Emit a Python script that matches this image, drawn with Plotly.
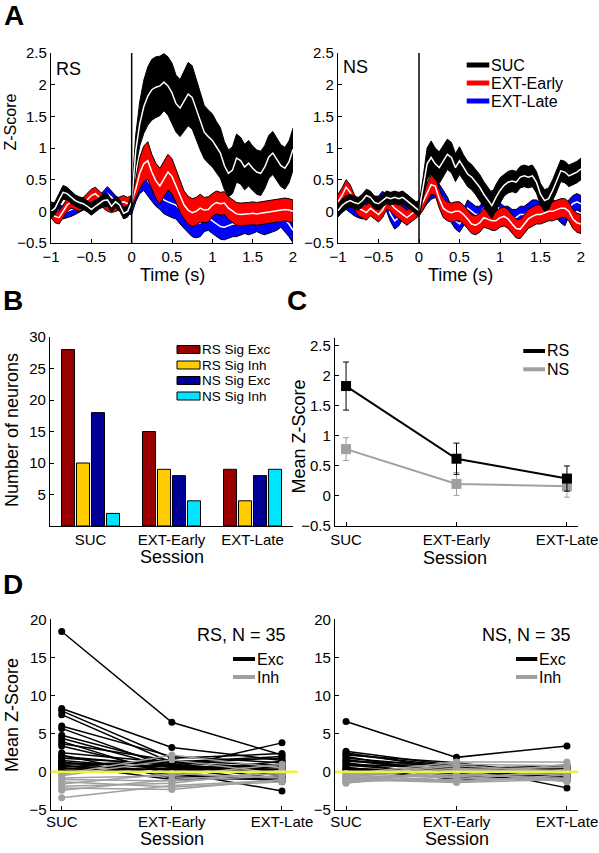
import plotly.graph_objects as go

W, H = 599, 853
FONT = "Liberation Sans, Arial, sans-serif"

# ---------------- Panel A data ----------------
time_s = [-1.00, -0.95, -0.90, -0.85, -0.80, -0.75, -0.70, -0.65, -0.60, -0.55,
          -0.50, -0.45, -0.40, -0.35, -0.30, -0.25, -0.20, -0.15, -0.10, -0.05,
          0.00, 0.05, 0.10, 0.15, 0.20, 0.25, 0.30, 0.35, 0.40, 0.45,
          0.50, 0.55, 0.60, 0.65, 0.70, 0.75, 0.80, 0.85, 0.90, 0.95,
          1.00, 1.05, 1.10, 1.15, 1.20, 1.25, 1.30, 1.35, 1.40, 1.45,
          1.50, 1.55, 1.60, 1.65, 1.70, 1.75, 1.80, 1.85, 1.90, 1.95, 2.00]

rs_suc_mean = [0.00, 0.05, 0.18, 0.30, 0.28, 0.22, 0.17, 0.14, 0.12, 0.08,
               0.03, 0.08, 0.13, 0.17, 0.18, 0.08, 0.15, 0.10, -0.03, 0.00,
               0.15, 0.95, 1.38, 1.65, 1.82, 1.92, 1.96, 1.98, 2.04, 1.98,
               1.87, 1.70, 1.63, 1.75, 1.85, 1.80, 1.62, 1.42, 1.25, 1.18,
               1.12, 1.02, 0.92, 0.72, 0.60, 0.65, 0.84, 0.80, 0.70, 0.76,
               0.68, 0.62, 0.60, 0.70, 0.86, 0.92, 0.82, 0.72, 0.68, 0.78, 0.98]
rs_suc_sem = [0.10, 0.10, 0.10, 0.11, 0.10, 0.10, 0.09, 0.09, 0.09, 0.09,
              0.09, 0.09, 0.09, 0.10, 0.10, 0.09, 0.09, 0.09, 0.09, 0.09,
              0.12, 0.25, 0.35, 0.42, 0.46, 0.48, 0.48, 0.47, 0.45, 0.46,
              0.47, 0.45, 0.45, 0.48, 0.50, 0.50, 0.47, 0.45, 0.42, 0.42,
              0.42, 0.40, 0.40, 0.38, 0.37, 0.37, 0.38, 0.37, 0.36, 0.36,
              0.35, 0.35, 0.35, 0.34, 0.34, 0.34, 0.33, 0.33, 0.33, 0.33, 0.33]

rs_early_mean = [0.00, -0.08, -0.10, 0.00, 0.10, 0.15, 0.12, 0.10, 0.12, 0.18,
                 0.25, 0.28, 0.22, 0.15, 0.10, 0.08, 0.10, 0.12, 0.15, 0.12,
                 0.15, 0.35, 0.60, 0.75, 0.80, 0.62, 0.48, 0.40, 0.52, 0.62,
                 0.55, 0.40, 0.22, 0.10, 0.02, -0.02, 0.00, 0.05, 0.02, 0.03,
                 0.10, 0.14, 0.12, 0.13, 0.05, 0.00, -0.04, -0.05, -0.05, -0.04,
                 -0.03, -0.04, -0.03, -0.02, 0.00, 0.00, 0.01, 0.02, 0.03, 0.02, 0.00]
rs_early_sem = [0.10, 0.10, 0.10, 0.10, 0.10, 0.10, 0.10, 0.10, 0.10, 0.10,
                0.10, 0.10, 0.10, 0.10, 0.10, 0.10, 0.10, 0.10, 0.10, 0.10,
                0.10, 0.15, 0.25, 0.28, 0.30, 0.28, 0.28, 0.28, 0.28, 0.28,
                0.28, 0.26, 0.24, 0.22, 0.22, 0.22, 0.22, 0.22, 0.20, 0.20,
                0.18, 0.18, 0.18, 0.18, 0.18, 0.18, 0.18, 0.18, 0.18, 0.18,
                0.18, 0.18, 0.18, 0.18, 0.18, 0.18, 0.18, 0.18, 0.18, 0.18, 0.18]

rs_late_mean = [0.05, 0.02, 0.00, -0.02, 0.00, 0.02, 0.05, 0.08, 0.12, 0.15,
                0.12, 0.10, 0.15, 0.22, 0.28, 0.22, 0.15, 0.10, 0.08, 0.05,
                0.05, 0.30, 0.50, 0.57, 0.48, 0.38, 0.30, 0.25, 0.18, 0.15,
                0.12, 0.10, 0.02, -0.05, -0.12, -0.18, -0.20, -0.18, -0.12, -0.10,
                -0.15, -0.20, -0.24, -0.25, -0.22, -0.20, -0.20, -0.18, -0.15, -0.17,
                -0.15, -0.12, -0.15, -0.17, -0.15, -0.12, -0.10, -0.05, -0.12, -0.20, -0.30]
rs_late_sem = [0.10, 0.10, 0.10, 0.10, 0.10, 0.10, 0.10, 0.10, 0.10, 0.10,
               0.10, 0.10, 0.10, 0.10, 0.11, 0.10, 0.10, 0.10, 0.10, 0.10,
               0.10, 0.15, 0.22, 0.24, 0.24, 0.22, 0.22, 0.22, 0.22, 0.22,
               0.22, 0.22, 0.22, 0.22, 0.22, 0.22, 0.22, 0.22, 0.20, 0.20,
               0.20, 0.20, 0.20, 0.20, 0.20, 0.20, 0.20, 0.20, 0.20, 0.20,
               0.20, 0.20, 0.20, 0.20, 0.20, 0.20, 0.20, 0.20, 0.20, 0.20, 0.20]

ns_suc_mean = [0.01, 0.09, 0.14, 0.17, 0.14, 0.12, 0.17, 0.25, 0.22, 0.14,
               0.12, 0.17, 0.22, 0.20, 0.22, 0.20, 0.22, 0.17, 0.12, 0.07,
               0.01, 0.38, 0.75, 0.85, 0.75, 0.69, 0.80, 0.90, 0.85, 0.69,
               0.80, 0.69, 0.59, 0.54, 0.46, 0.38, 0.27, 0.17, 0.09, 0.22,
               0.33, 0.41, 0.46, 0.48, 0.46, 0.54, 0.56, 0.54, 0.56, 0.46,
               0.27, 0.17, 0.20, 0.33, 0.48, 0.64, 0.62, 0.56, 0.59, 0.62, 0.67]
ns_suc_sem = [0.10, 0.10, 0.10, 0.10, 0.10, 0.10, 0.10, 0.10, 0.10, 0.10,
              0.10, 0.10, 0.10, 0.10, 0.10, 0.10, 0.10, 0.10, 0.10, 0.10,
              0.10, 0.15, 0.25, 0.26, 0.25, 0.25, 0.25, 0.24, 0.24, 0.22,
              0.22, 0.20, 0.20, 0.20, 0.20, 0.20, 0.20, 0.20, 0.20, 0.20,
              0.20, 0.17, 0.17, 0.17, 0.17, 0.17, 0.17, 0.17, 0.17, 0.17,
              0.17, 0.17, 0.17, 0.17, 0.17, 0.17, 0.17, 0.17, 0.17, 0.17, 0.17]

ns_early_mean = [0.15, 0.25, 0.38, 0.30, 0.15, 0.05, 0.02, -0.02, 0.05, 0.00,
                 -0.05, 0.02, 0.15, 0.12, 0.05, 0.00, -0.05, -0.10, -0.05, 0.00,
                 0.05, 0.15, 0.30, 0.42, 0.40, 0.20, 0.05, 0.00, -0.02, 0.00,
                 0.00, -0.05, -0.12, -0.20, -0.22, -0.18, -0.10, -0.12, -0.15, -0.15,
                 -0.10, -0.08, -0.12, -0.20, -0.27, -0.28, -0.20, -0.12, -0.08, -0.05,
                 -0.05, -0.02, 0.00, 0.00, 0.02, 0.05, 0.05, 0.00, -0.12, -0.18, -0.20]
ns_early_sem = [0.12, 0.12, 0.12, 0.12, 0.12, 0.12, 0.12, 0.12, 0.12, 0.12,
                0.12, 0.12, 0.12, 0.12, 0.12, 0.12, 0.12, 0.12, 0.12, 0.12,
                0.12, 0.13, 0.15, 0.15, 0.15, 0.15, 0.15, 0.15, 0.15, 0.15,
                0.15, 0.15, 0.15, 0.15, 0.15, 0.15, 0.15, 0.15, 0.15, 0.15,
                0.15, 0.15, 0.15, 0.15, 0.15, 0.15, 0.15, 0.15, 0.15, 0.15,
                0.15, 0.15, 0.15, 0.15, 0.15, 0.15, 0.15, 0.15, 0.15, 0.15, 0.15]

ns_late_mean = [0.05, 0.10, 0.15, 0.10, 0.05, 0.02, 0.00, 0.05, 0.10, 0.12,
                0.12, 0.20, 0.12, -0.05, -0.15, -0.10, 0.00, 0.00, 0.00, 0.02,
                0.05, 0.15, 0.25, 0.32, 0.35, 0.30, 0.20, 0.10, -0.05, -0.15,
                -0.20, -0.10, 0.05, 0.00, -0.05, -0.05, 0.05, 0.15, 0.20, 0.15,
                0.00, -0.05, -0.05, -0.10, -0.10, -0.05, -0.05, 0.00, 0.05, 0.05,
                0.00, 0.00, 0.05, 0.05, 0.02, -0.05, -0.10, 0.05, 0.12, 0.15, 0.12]
ns_late_sem = [0.12, 0.12, 0.12, 0.12, 0.12, 0.12, 0.12, 0.12, 0.12, 0.12,
               0.12, 0.12, 0.12, 0.12, 0.13, 0.13, 0.12, 0.12, 0.12, 0.12,
               0.12, 0.13, 0.13, 0.13, 0.13, 0.13, 0.13, 0.13, 0.13, 0.13,
               0.13, 0.13, 0.13, 0.13, 0.13, 0.13, 0.13, 0.13, 0.13, 0.13,
               0.13, 0.13, 0.13, 0.13, 0.13, 0.13, 0.13, 0.13, 0.13, 0.13,
               0.13, 0.13, 0.13, 0.13, 0.13, 0.13, 0.13, 0.13, 0.13, 0.13, 0.13]

# ---------------- Panel B data ----------------
sessions = ["SUC", "EXT-Early", "EXT-Late"]
count_names = ["RS Sig Exc", "RS Sig Inh", "NS Sig Exc", "NS Sig Inh"]
rs_sig_exc = [28, 15, 9]
rs_sig_inh = [10, 9, 4]
ns_sig_exc = [18, 8, 8]
ns_sig_inh = [2, 4, 9]

# ---------------- Panel C data ----------------
c_rs_mean = [1.83, 0.62, 0.29]
c_rs_sem = [0.40, 0.26, 0.21]
c_ns_mean = [0.78, 0.20, 0.16]
c_ns_sem = [0.19, 0.19, 0.18]

# ---------------- Panel D data (per neuron, per session) ----------------
rs_exc_suc = [18.4, 8.3, 8.0, 7.5, 6.0, 5.7, 4.8, 4.4, 4.0, 3.7, 3.4, 2.5, 2.2,
              2.0, 1.8, 1.5, 1.3, 1.2, 1.0, 0.9, 0.8, 0.6, 0.5, 0.4, 0.2]
rs_exc_early = [6.5, 3.2, 1.8, 1.2, 2.0, 0.5, 1.0, 0.5, -0.5, 1.5, 0.0, 1.2, -0.8,
                0.8, 1.0, 0.3, -0.3, 0.6, 1.3, -1.0, 0.2, 1.6, -0.2, 0.9, 0.4]
rs_exc_late = [2.2, 1.5, 2.4, 0.5, 1.2, -1.3, 0.0, 3.8, -0.8, 0.8, -2.5, 1.8, -1.0,
               0.3, -0.5, 1.0, -1.2, 0.2, 2.0, -0.6, 0.6, -0.3, 1.4, -0.9, 0.1]
rs_inh_suc = [-0.3, -0.5, -0.8, -1.0, -1.3, -1.6, -1.9, -2.1, -2.4, -3.4]
rs_inh_early = [2.2, 1.6, -0.5, -1.2, -2.0, -0.2, -1.5, -2.3, -1.0, -1.8]
rs_inh_late = [0.5, -0.3, 1.0, -0.5, -1.3, -0.8, 0.2, -1.0, -0.2, -1.1]

ns_exc_suc = [6.6, 2.7, 2.5, 2.2, 2.0, 1.8, 1.5, 1.2, 1.0, 0.8, 0.5, 0.3, 0.2, 0.1,
              1.6, 0.9, 2.3, 0.6, 1.4, 0.4]
ns_exc_early = [1.9, 0.8, 0.3, 1.2, -0.4, 0.6, 0.0, -0.6, 0.4, 1.0, -0.2, 0.2, -0.8, 0.5,
                0.1, -0.3, 0.7, -1.0, 0.9, 0.0]
ns_exc_late = [3.4, -2.1, 0.6, -0.5, 0.2, -1.0, 0.5, -0.3, 0.8, -0.8, 0.0, -0.6, 0.3, -0.2,
               -1.2, 0.6, 0.1, -0.4, -0.7, 0.4]
ns_inh_suc = [-0.3, -0.5, -0.7, -0.8, -1.0, -1.1, -1.2, -1.4, -0.4, -0.6, -0.9, -1.3, -0.2, -1.5, -0.7]
ns_inh_early = [1.3, 1.0, 0.5, -0.5, -1.4, 0.0, -1.0, -0.6, -1.2, 0.8, -0.3, 0.3, -0.8, 0.2, -1.3]
ns_inh_late = [1.3, 0.8, -0.5, 1.0, -1.0, -1.3, 0.3, -0.2, -0.8, 0.0, -0.9, 0.6, -1.1, 0.2, -0.4]

# ---------------- styles ----------------
RED, BLUE = "#ff0000", "#0000ff"
BAR_COLORS = ["#990000", "#ffcc00", "#000099", "#00e5ff"]
GRAY = "#a0a0a0"
YELLOW = "#eef046"


def px(x):
    return x / W


def py(y):
    return 1 - y / H


fig = go.Figure()


def band(xa, ya, mean, sem, color):
    upper = [m + s for m, s in zip(mean, sem)]
    lower = [m - s for m, s in zip(mean, sem)]
    fig.add_trace(go.Scatter(x=time_s + time_s[::-1], y=upper + lower[::-1],
                             fill="toself", fillcolor=color, mode="lines",
                             line=dict(color="black", width=1),
                             xaxis=xa, yaxis=ya, hoverinfo="skip", showlegend=False))
    fig.add_trace(go.Scatter(x=time_s, y=mean, mode="lines",
                             line=dict(color="white", width=1.5),
                             xaxis=xa, yaxis=ya, showlegend=False))


band("x", "y", rs_late_mean, rs_late_sem, BLUE)
band("x", "y", rs_early_mean, rs_early_sem, RED)
band("x", "y", rs_suc_mean, rs_suc_sem, "black")
band("x2", "y2", ns_late_mean, ns_late_sem, BLUE)
band("x2", "y2", ns_early_mean, ns_early_sem, RED)
band("x2", "y2", ns_suc_mean, ns_suc_sem, "black")

# Panel B bars
for name, vals, col in zip(count_names, [rs_sig_exc, rs_sig_inh, ns_sig_exc, ns_sig_inh], BAR_COLORS):
    fig.add_trace(go.Bar(x=sessions, y=vals, name=name,
                         marker=dict(color=col, line=dict(color="black", width=1)),
                         xaxis="x3", yaxis="y3", showlegend=False))

# Panel C
for mean, sem, col in [(c_ns_mean, c_ns_sem, GRAY), (c_rs_mean, c_rs_sem, "black")]:
    fig.add_trace(go.Scatter(x=sessions, y=mean, mode="lines+markers",
                             line=dict(color=col, width=2),
                             marker=dict(symbol="square", size=10, color=col),
                             error_y=dict(type="data", array=sem, color=col, thickness=1, width=3),
                             xaxis="x4", yaxis="y4", showlegend=False))


# Panel D
def neuron_lines(xa, ya, suc, early, late, col):
    for a, b, c in zip(suc, early, late):
        fig.add_trace(go.Scatter(x=sessions, y=[a, b, c], mode="lines+markers",
                                 line=dict(color=col, width=1.5),
                                 marker=dict(symbol="circle", size=7, color=col),
                                 xaxis=xa, yaxis=ya, showlegend=False))


neuron_lines("x5", "y5", rs_exc_suc, rs_exc_early, rs_exc_late, "black")
neuron_lines("x5", "y5", rs_inh_suc, rs_inh_early, rs_inh_late, GRAY)
neuron_lines("x6", "y6", ns_exc_suc, ns_exc_early, ns_exc_late, "black")
neuron_lines("x6", "y6", ns_inh_suc, ns_inh_early, ns_inh_late, GRAY)


def axis(domain, rng, anchor, **kw):
    d = dict(domain=domain, range=rng, anchor=anchor, automargin=False,
             showline=True, linecolor="black", linewidth=1.2,
             ticks="inside", ticklen=4, tickcolor="black", tickwidth=1,
             showgrid=False, zeroline=False,
             tickfont=dict(size=15, color="black", family=FONT), fixedrange=True)
    d.update(kw)
    return d


yA = [py(243), py(53)]
yB = [py(526), py(337)]
yD = [py(810), py(619.3)]

layout = dict(
    template="none",
    width=W, height=H, margin=dict(l=0, r=0, t=0, b=0, pad=0, autoexpand=False),
    paper_bgcolor="white", plot_bgcolor="white", showlegend=False,
    font=dict(family=FONT, color="black"),
    barmode="group", bargap=0.26, bargroupgap=0.13,
    xaxis=axis([px(51), px(293)], [-1, 2], "y", dtick=0.5),
    yaxis=axis(yA, [-0.5, 2.5], "x", dtick=0.5),
    xaxis2=axis([px(338), px(581)], [-1, 2], "y2", dtick=0.5),
    yaxis2=axis(yA, [-0.5, 2.5], "x2", dtick=0.5),
    xaxis3=axis([px(50), px(293)], [-0.5, 2.5], "y3", ticks="", type="category"),
    yaxis3=axis(yB, [0, 30], "x3", tickvals=[5, 10, 15, 20, 25, 30]),
    xaxis4=axis([px(335), px(578)], [-0.1, 2.1], "y4", type="category"),
    yaxis4=axis([py(526), py(338)], [-0.5, 2.63], "x4", tickvals=[-0.5, 0, 0.5, 1, 1.5, 2, 2.5]),
    xaxis5=axis([px(50.7), px(293)], [-0.1, 2.1], "y5", type="category", ticklabelstandoff=-2),
    yaxis5=axis(yD, [-5, 20], "x5", dtick=5),
    xaxis6=axis([px(335), px(578)], [-0.1, 2.1], "y6", type="category", ticklabelstandoff=-2),
    yaxis6=axis(yD, [-5, 20], "x6", dtick=5),
)

shapes = [
    dict(type="line", xref="x", yref="y domain", x0=0, x1=0, y0=0, y1=1, line=dict(color="black", width=1.5)),
    dict(type="line", xref="x2", yref="y2 domain", x0=0, x1=0, y0=0, y1=1, line=dict(color="black", width=1.5)),
    dict(type="line", xref="x5 domain", yref="y5", x0=0, x1=1.02, y0=0, y1=0, line=dict(color=YELLOW, width=2.5)),
    dict(type="line", xref="x6 domain", yref="y6", x0=0, x1=1.0, y0=0, y1=0, line=dict(color=YELLOW, width=2.5)),
]
annotations = []


def label(text, x, y, size=18, xanchor="left", bold=False, angle=0):
    annotations.append(dict(text=("<b>%s</b>" % text) if bold else text, x=px(x), y=py(y),
                            xref="paper", yref="paper", xanchor=xanchor, yanchor="middle",
                            showarrow=False, textangle=angle, borderpad=0,
                            font=dict(size=size, color="black", family=FONT)))


def legend_line(x0, x1, y, col, width=4):
    shapes.append(dict(type="line", xref="paper", yref="paper", x0=px(x0), x1=px(x1), y0=py(y), y1=py(y),
                       line=dict(color=col, width=width)))


# panel letters
label("A", 3, 16, 28, bold=True)
label("B", 2, 300, 28, bold=True)
label("C", 286, 300, 28, bold=True)
label("D", 2, 584, 28, bold=True)

# axis titles
label("Z-Score", 10.5, 122, 16, xanchor="center", angle=-90)
label("Time (s)", 172, 275, 18, xanchor="center")
label("Time (s)", 460, 275, 18, xanchor="center")
label("Number of neurons", 12, 430, 18, xanchor="center", angle=-90)
label("Session", 172, 557, 18, xanchor="center")
label("Mean Z-Score", 298.5, 437, 18, xanchor="center", angle=-90)
label("Session", 455, 558, 18, xanchor="center")
label("Mean Z-Score", 12, 715, 18, xanchor="center", angle=-90)
label("Session", 172, 839, 18, xanchor="center")
label("Session", 457, 839, 18, xanchor="center")

# panel A texts / legend
label("RS", 55, 69)
label("NS", 342, 67)
for (name, col), yy in zip([("SUC", "black"), ("EXT-Early", RED), ("EXT-Late", BLUE)], [65, 83, 101]):
    legend_line(466.7, 489.3, yy, col, 5)
    label(name, 489.5, yy, 16)

# panel B legend
for name, col, yy in zip(count_names, BAR_COLORS, [349.5, 365, 380.5, 396]):
    shapes.append(dict(type="rect", xref="paper", yref="paper", x0=px(177), x1=px(200),
                       y0=py(yy + 4), y1=py(yy - 4), fillcolor=col, line=dict(color="black", width=1)))
    label(name, 201, yy, 13.5)

# panel C legend
for name, col, yy in [("RS", "black", 351), ("NS", GRAY, 369.3)]:
    legend_line(523.3, 545, yy, col, 4)
    label(name, 545.5, yy, 16)

# panel D legends
label("RS, N = 35", 287, 635, xanchor="right")
label("NS, N = 35", 572, 635, xanchor="right")
for x0, x1 in [(233, 255), (516, 537.3)]:
    for name, col, yy in [("Exc", "black", 659), ("Inh", GRAY, 677)]:
        legend_line(x0, x1, yy, col, 4)
        label(name, x1 + 0.5, yy, 16)

layout["shapes"] = shapes
layout["annotations"] = annotations
fig.update_layout(**layout)
fig.write_html("out.html", config={"displayModeBar": False},
               post_script="document.body.style.margin='0px';document.body.style.overflow='hidden';")
